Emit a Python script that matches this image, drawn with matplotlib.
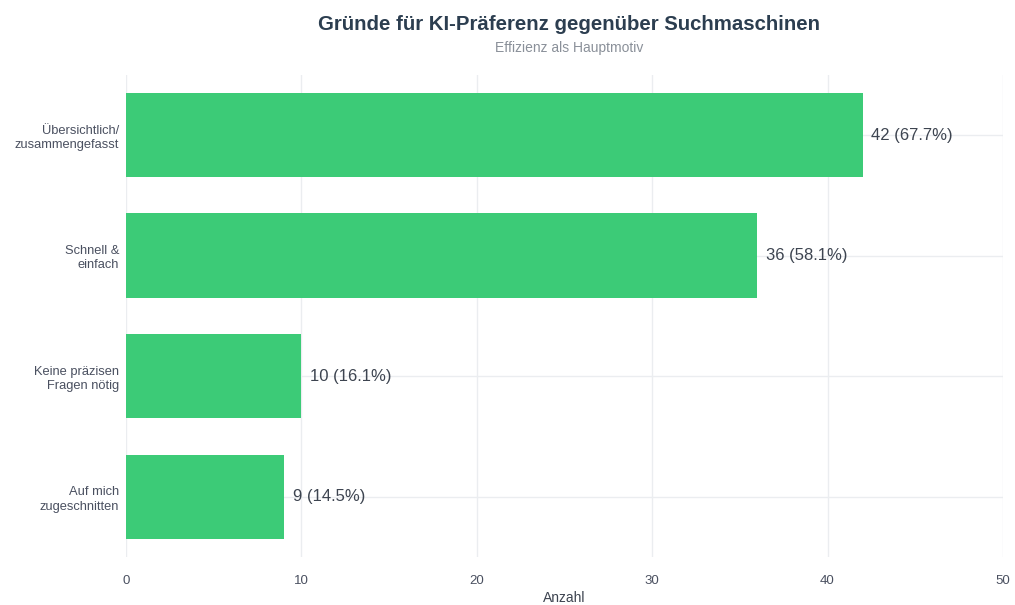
import matplotlib
matplotlib.use("Agg")
import matplotlib.pyplot as plt

categories = ["Übersichtlich/\nzusammengefasst", "Schnell &\neinfach", "Keine präzisen\nFragen nötig", "Auf mich\nzugeschnitten"]
counts = [42, 36, 10, 9]
percents = [67.7, 58.1, 16.1, 14.5]
xticks = [0, 10, 20, 30, 40, 50]

plt.rcParams['font.family'] = ['Liberation Sans', 'DejaVu Sans']

fig = plt.figure(figsize=(10.15, 6.05), dpi=100)
ax = fig.add_axes([0.1241, 0.0793, 0.864, 0.797])

ypos = list(range(len(categories)))
ax.barh(ypos, counts, height=0.7, color='#3ccb77', zorder=2)
for y, c, p in zip(ypos, counts, percents):
    ax.text(c + 0.5, y, f"{c} ({p}%)", va='center', ha='left', fontsize=12, color='#3d4450')

ax.set_xlim(0, 50)
ax.set_ylim(3.5, -0.5)
ax.set_yticks(ypos)
ax.set_yticklabels(categories, fontsize=9.3, color='#4a5060', ha='right', multialignment='right',
                   linespacing=1.25)
ax.set_xticks(xticks)
ax.set_xticklabels([str(t) for t in xticks], fontsize=9.5, color='#4a5060')
ax.tick_params(axis='y', length=0, pad=5)
ax.tick_params(axis='x', length=0, pad=13)
ax.grid(True, color='#ebedf0', linewidth=1, zorder=0)
for s in ax.spines.values():
    s.set_visible(False)
ax.set_xlabel("Anzahl", fontsize=10, color='#3d4450', labelpad=3)

fig.text(0.561, 0.960, "Gründe für KI-Präferenz gegenüber Suchmaschinen", ha='center', va='center',
         fontsize=14.7, fontweight='bold', color='#2c3e50')
fig.text(0.561, 0.921, "Effizienz als Hauptmotiv", ha='center', va='center', fontsize=10, color='#8a9099')

fig.savefig("out.png", dpi=100)
